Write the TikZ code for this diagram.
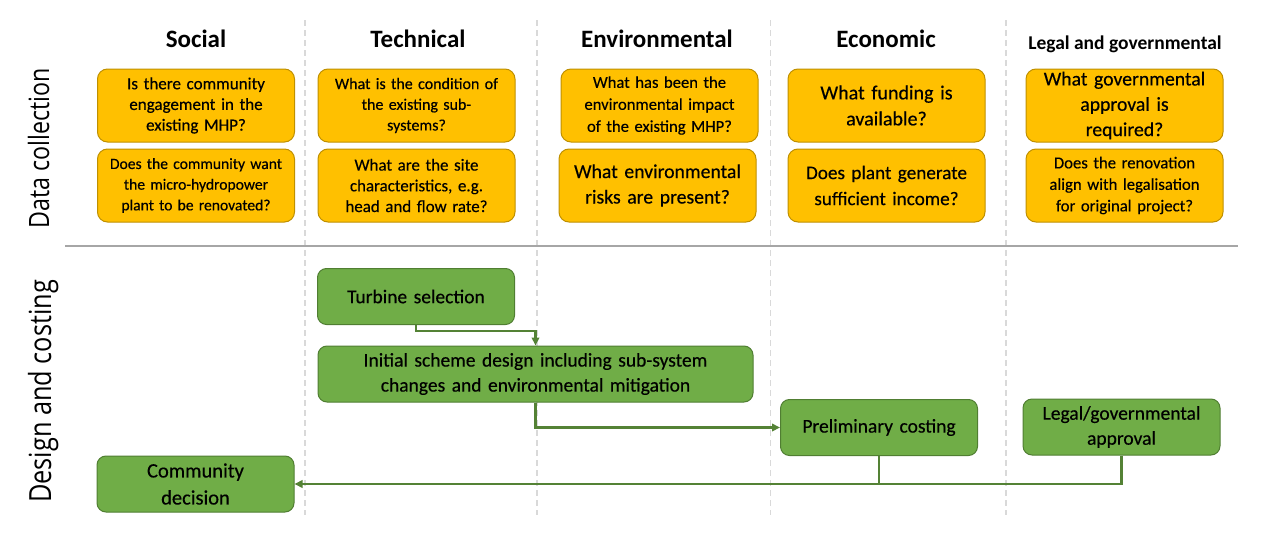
\documentclass[tikz,border=0pt]{standalone}
\usepackage{fontspec}
\setmainfont{Carlito}[UprightFeatures={FakeBold=0.35}]
\newfontfamily\rowfont{Open Sans}[FakeStretch=0.83]
\usepackage{tikz}
\usetikzlibrary{arrows.meta}
\usepackage{xcolor}
\definecolor{QFill}{HTML}{FFC000}
\definecolor{QLine}{HTML}{BF9000}
\definecolor{SFill}{HTML}{70AD47}
\definecolor{SLine}{HTML}{507E32}
\definecolor{FlowCol}{HTML}{548235}
\definecolor{RuleCol}{HTML}{A6A6A6}
\definecolor{LaneCol}{HTML}{D9D9D9}
\tikzstyle{QuestionBox}=[rectangle,rounded corners=10pt,draw=QLine,fill=QFill,line width=1pt,
minimum width=197pt,minimum height=73pt,text width=189pt,inner xsep=4pt,inner ysep=0pt,
align=center,font=\fontsize{16.5}{20.7}\selectfont]
\tikzstyle{QuestionBig}=[QuestionBox,font=\fontsize{19.7}{25.5}\selectfont]
\tikzstyle{StageBox}=[rectangle,rounded corners=9pt,draw=SLine,fill=SFill,line width=1pt,
minimum width=197pt,minimum height=56pt,text width=189pt,inner xsep=4pt,inner ysep=0pt,
align=center,font=\fontsize{19.5}{25}\selectfont]
\tikzstyle{ColHead}=[anchor=base,inner sep=0pt,font=\fontsize{25}{30}\selectfont\bfseries]
\tikzstyle{RowHead}=[rotate=90,anchor=base,inner sep=0pt]
\tikzstyle{LaneLine}=[LaneCol,line width=1.5pt,dash pattern=on 6pt off 4pt]
\tikzstyle{FlowLine}=[FlowCol,line width=2.3pt]
\tikzstyle{FlowArrow}=[FlowLine,-{Triangle[length=8pt,width=7.5pt]}]

\begin{document}
\begin{tikzpicture}[x=1pt,y=-1pt]
        \useasboundingbox(0,0)rectangle(1270,546);
        \draw[LaneLine](305,20)--(305,515);
        \draw[LaneLine](537,20)--(537,515);
        \draw[LaneLine](770.5,20)--(770.5,515);
        \draw[LaneLine](1006,20)--(1006,515);
        \draw[RuleCol,line width=2pt](65,246)--(1238,246);
        \node[RowHead,font=\rowfont\fontsize{28}{30}\selectfont](dc)at(49,148){Data collection};
        \node[RowHead,font=\rowfont\fontsize{30.5}{32}\selectfont](dg)at(51,391.5){Design and costing};
        \node[ColHead](hs)at(196,47.7){Social};
        \node[ColHead](ht)at(418,47.7){Technical};
        \node[ColHead](hen)at(657,47.7){Environmental};
        \node[ColHead](hec)at(886,47.7){Economic};
        \node[ColHead,font=\fontsize{19.5}{24}\selectfont\bfseries](hl)at(1125,49){Legal and governmental};
        \node[QuestionBox,font=\fontsize{17}{20.7}\selectfont](s1)at(196,105.5){Is there community\\engagement in the\\existing MHP?};
        \node[QuestionBox,font=\fontsize{15.6}{20.7}\selectfont](s2)at(196,185.5){Does the community want\\the micro-hydropower\\plant to be renovated?};
        \node[QuestionBox,font=\fontsize{16}{20.7}\selectfont](t1)at(416.5,105.5){What is the condition of\\the existing sub-\\systems?};
        \node[QuestionBox,font=\fontsize{16.9}{20.7}\selectfont](t2)at(416.5,185.5){What are the site\\characteristics, e.g.\\head and flow rate?};
        \node[QuestionBox,font=\fontsize{16.6}{22}\selectfont](en1)at(659.5,105.5){What has been the\\environmental impact\\of the existing MHP?};
        \node[QuestionBig](en2)at(657.5,185.5){What environmental\\risks are present?};
        \node[QuestionBig,font=\fontsize{20}{26}\selectfont](ec1)at(886.5,105.5){What funding is\\available?};
        \node[QuestionBig,font=\fontsize{19.2}{26}\selectfont](ec2)at(886.5,185.5){Does plant generate\\sufficient income?};
        \node[QuestionBig,font=\fontsize{19.7}{25.3}\selectfont](l1)at(1124.5,105.5){What governmental\\approval is\\required?};
        \node[QuestionBox,font=\fontsize{16.7}{21.5}\selectfont](l2)at(1124.5,185.5){Does the renovation\\align with legalisation\\for original project?};
        \node[StageBox](turb)at(416,296.5){Turbine selection};
        \node[StageBox,minimum width=435pt,text width=427pt](init)at(535.5,374){Initial scheme design including sub-system\\changes and environmental mitigation};
        \node[StageBox](prel)at(879,427.5){Preliminary costing};
        \node[StageBox](lega)at(1121.5,427){Legal/governmental\\approval};
        \node[StageBox,font=\fontsize{20.5}{27}\selectfont](comm)at(195.5,484){Community\\decision};
        \coordinate(jn)at(prel.south|-comm.east);
        \draw[FlowArrow](turb.south)--++(0,6)-|(init.north);
        \draw[FlowArrow](init.south)|-(prel.west);
        \draw[FlowLine](lega.south)|-(jn);
        \draw[FlowArrow](prel.south)|-(comm.east);
    \end{tikzpicture}
\end{document}
